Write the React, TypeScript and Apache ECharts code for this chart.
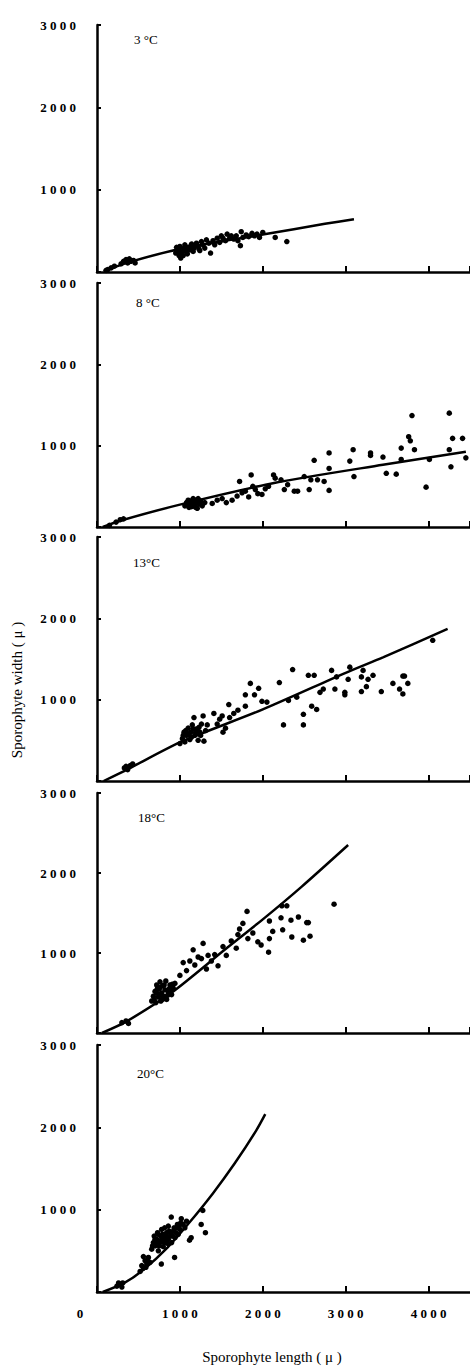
import React, { useEffect, useRef } from "react";
import * as echarts from "echarts";

// ---- data ----
const panelLabels = ["3 °C", "8 °C", "13°C", "18°C", "20°C"];
const xTickValues = [0, 1000, 2000, 3000, 4000];
const yTickValues = [1000, 2000, 3000];

const scatter3 = [
  [110, 20], [130, 30], [170, 50], [210, 70], [290, 100], [320, 130], [350, 150], [370, 110], [390, 160], [410, 130], [440, 140], [460, 110],
  [950, 230], [970, 270], [990, 200], [1000, 310], [1010, 170], [1030, 240], [1050, 290], [1060, 330], [1080, 250], [1100, 300],
  [960, 300], [1000, 250], [1040, 200], [1070, 280], [1090, 220], [1130, 310], [1160, 250], [1190, 320], [1230, 280],
  [1120, 270], [1140, 340], [1170, 290], [1200, 350], [1220, 310], [1240, 260], [1260, 370], [1280, 330], [1300, 290], [1320, 390],
  [1350, 350], [1370, 230], [1400, 380], [1420, 330], [1450, 410], [1480, 360], [1500, 440], [1520, 410], [1550, 380], [1570, 460],
  [1600, 410], [1620, 440], [1650, 400], [1680, 440], [1700, 380], [1730, 320], [1740, 490], [1760, 420], [1800, 450], [1830, 430],
  [1870, 470], [1900, 440], [1930, 460], [1960, 420], [2000, 480], [2150, 420], [2290, 370],
];
const line3 = [[80, 10], [390, 120], [1000, 280], [2000, 455], [2750, 585], [3100, 640]];

const scatter8 = [
  [150, 20], [230, 60], [280, 90], [320, 100],
  [1060, 260], [1080, 300], [1100, 330], [1110, 240], [1130, 280], [1150, 310], [1160, 350], [1180, 260], [1190, 300], [1200, 330],
  [1210, 230], [1230, 290], [1250, 320], [1270, 260], [1300, 300],
  [1090, 280], [1120, 320], [1140, 250], [1170, 330], [1190, 240], [1220, 350], [1240, 280], [1160, 290],
  [1390, 290], [1450, 330], [1510, 350], [1560, 300], [1630, 330], [1690, 380], [1750, 420], [1720, 560], [1790, 440], [1830, 370],
  [1860, 640], [1880, 500], [1910, 460], [1940, 410], [1990, 400], [2030, 470], [2070, 500], [2130, 640], [2150, 600], [2220, 580],
  [2260, 460], [2300, 520], [2380, 440], [2420, 440], [2500, 620], [2560, 460], [2580, 580], [2620, 820], [2660, 580], [2740, 560],
  [2800, 720], [2800, 910], [2800, 450], [3050, 810], [3090, 950], [3100, 620], [3300, 910], [3300, 880], [3450, 860], [3490, 660],
  [3610, 650], [3670, 830], [3670, 970], [3760, 1110], [3780, 1060], [3800, 1370], [3830, 950], [3970, 490], [4010, 830], [4250, 1400],
  [4250, 950], [4270, 740], [4290, 1090], [4410, 1090], [4450, 850],
];
const line8 = [[70, 0], [290, 80], [1000, 275], [2150, 545], [3450, 765], [4450, 925]];

const scatter13 = [
  [330, 160], [370, 140], [400, 190], [430, 210], [350, 180],
  [1000, 460], [1030, 520], [1050, 600], [1060, 480], [1080, 560], [1100, 650], [1120, 510], [1130, 600], [1150, 690], [1170, 780],
  [1180, 560], [1200, 640], [1220, 500], [1240, 600], [1260, 700], [1280, 800], [1290, 490], [1310, 620], [1330, 690],
  [1040, 560], [1070, 620], [1110, 580], [1140, 540], [1160, 640], [1190, 600], [1230, 660], [1250, 560],
  [1410, 830], [1450, 700], [1480, 760], [1510, 800], [1520, 600], [1550, 650], [1590, 940], [1600, 780], [1650, 830], [1700, 870],
  [1790, 1060], [1790, 920], [1850, 1200], [1900, 1060], [1950, 1140], [1990, 980], [2050, 970], [2200, 1210], [2250, 690], [2310, 990],
  [2360, 1370], [2410, 1030], [2490, 820], [2490, 690], [2550, 1300], [2590, 920], [2620, 1300], [2650, 880], [2690, 1090], [2730, 1130],
  [2830, 1360], [2870, 1130], [2890, 1280], [2990, 1090], [2990, 1060], [3030, 1250], [3050, 1400], [3190, 1280], [3210, 1360],
  [3190, 1100], [3250, 1160], [3270, 1250], [3330, 1300], [3430, 1100], [3570, 1200], [3650, 1130], [3690, 1290], [3690, 1070],
  [3710, 1290], [3750, 1200], [4050, 1730],
];
const line13 = [[80, 0], [380, 150], [1000, 475], [2000, 880], [3000, 1330], [3450, 1520], [4230, 1870]];

const scatter18 = [
  [300, 130], [350, 150], [380, 120],
  [660, 400], [680, 460], [700, 520], [710, 380], [720, 600], [740, 450], [750, 550], [760, 640], [770, 400], [780, 500], [790, 590],
  [800, 460], [820, 540], [830, 650], [840, 420], [860, 520], [880, 600], [900, 480], [920, 560], [940, 620],
  [690, 420], [720, 500], [730, 560], [760, 480], [790, 420], [810, 600], [850, 470], [870, 550], [890, 520], [910, 610], [760, 570],
  [1000, 720], [1040, 880], [1080, 780], [1120, 900], [1160, 1040], [1180, 850], [1220, 950], [1260, 930], [1280, 1120], [1320, 800],
  [1340, 970], [1380, 900], [1420, 980], [1460, 840], [1520, 1080], [1560, 970], [1620, 1150], [1680, 1060], [1700, 1230], [1720, 1300],
  [1760, 1370], [1810, 1520], [1820, 1180], [1880, 1250], [1940, 1140], [1980, 1100], [2070, 1010], [2080, 1400], [2080, 1180],
  [2120, 1270], [2220, 1440], [2230, 1590], [2240, 1290], [2290, 1590], [2340, 1410], [2350, 1200], [2430, 1450], [2490, 1160],
  [2530, 1380], [2550, 1380], [2570, 1210], [2860, 1610],
];
const line18 = [[60, 0], [340, 135], [900, 505], [1540, 1040], [2000, 1420], [2470, 1830], [3030, 2350]];

const scatter20 = [
  [240, 70], [280, 90], [310, 110], [300, 60], [260, 110],
  [520, 250], [540, 320], [560, 290], [580, 380], [600, 340], [620, 420], [640, 360], [560, 430], [590, 300], [610, 380],
  [660, 520], [680, 600], [690, 680], [700, 560], [720, 640], [730, 720], [740, 500], [760, 600], [770, 680], [776, 340], [780, 760],
  [800, 550], [816, 780], [820, 650], [840, 720], [850, 590], [860, 800], [880, 680], [896, 910], [900, 600], [920, 740], [936, 420],
  [940, 660], [960, 780], [980, 700], [1000, 760], [1017, 890], [1040, 820], [1060, 780], [1080, 860], [1116, 630], [1136, 660],
  [670, 560], [700, 640], [710, 600], [740, 700], [750, 560], [780, 640], [790, 700], [810, 600], [830, 680], [860, 640], [870, 740],
  [890, 720], [910, 680], [930, 780], [950, 720], [970, 820], [990, 800], [1010, 840],
  [1257, 820], [1276, 990], [1308, 720],
];
const line20 = [[70, 0], [330, 110], [560, 270], [850, 540], [1120, 850], [1400, 1200], [1660, 1560], [1920, 1960], [2030, 2160]];

const scatters = [scatter3, scatter8, scatter13, scatter18, scatter20];
const lines = [line3, line8, line13, line18, line20];

// ---- layout ----
const TOPS = [25, 283, 537, 793, 1045];
const BOTTOMS = [272, 527, 781, 1033, 1292];
const LABEL_POS = [
  [134, 33], [136, 296], [133, 556], [138, 811], [137, 1067],
];

const spaced = (v: number) => String(v).split("").join(" ");
const tickFont = {
  fontFamily: "Liberation Serif",
  fontWeight: "bold" as const,
  fontSize: 13,
  color: "#000",
};

export default function App() {
  const ref = useRef<HTMLDivElement>(null);
  useEffect(() => {
    if (!ref.current) return;
    const chart = echarts.init(ref.current, undefined, { renderer: "svg" });
    const n = panelLabels.length;
    const option: any = {
      animation: false,
      backgroundColor: "#fff",
      grid: TOPS.map((t, i) => ({ left: 97, top: t, width: 375, height: BOTTOMS[i] - t })),
      xAxis: TOPS.map((_, i) => ({
        type: "value",
        gridIndex: i,
        min: 0,
        max: 4500,
        interval: 1000,
        axisLine: { show: true, lineStyle: { color: "#000", width: 2.5 } },
        axisTick: { show: true, inside: true, length: 6, lineStyle: { color: "#000", width: 2 } },
        splitLine: { show: false },
        axisLabel:
          i === n - 1
            ? {
                show: true,
                showMaxLabel: false,
                margin: 15,
                ...tickFont,
                formatter: (v: number) =>
                  v === 0 ? "{z|0}" : xTickValues.includes(v) ? spaced(v) : "",
                rich: { z: { ...tickFont, padding: [0, 34, 0, 0] } },
              }
            : { show: false },
      })),
      yAxis: TOPS.map((_, i) => ({
        type: "value",
        gridIndex: i,
        min: 0,
        max: 3000,
        interval: 1000,
        axisLine: { show: true, onZero: false, lineStyle: { color: "#000", width: 2.5 } },
        axisTick: { show: true, inside: true, length: 4, lineStyle: { color: "#000", width: 2 } },
        splitLine: { show: false },
        axisLabel: {
          margin: 21,
          ...tickFont,
          formatter: (v: number) => (yTickValues.includes(v) ? spaced(v) : ""),
        },
      })),
      series: [
        ...scatters.map((d, i) => ({
          type: "scatter",
          xAxisIndex: i,
          yAxisIndex: i,
          data: d,
          symbolSize: 5.5,
          itemStyle: { color: "#000", opacity: 1 },
        })),
        ...lines.map((d, i) => ({
          type: "line",
          xAxisIndex: i,
          yAxisIndex: i,
          data: d,
          smooth: 0.25,
          showSymbol: false,
          lineStyle: { color: "#000", width: 2.5 },
        })),
      ],
      graphic: [
        ...panelLabels.map((t, i) => ({
          type: "text",
          left: LABEL_POS[i][0],
          top: LABEL_POS[i][1],
          style: { text: t, font: "13px 'Liberation Serif'", fill: "#000" },
        })),
        {
          type: "text",
          x: 17,
          y: 690,
          rotation: Math.PI / 2,
          style: {
            text: "Sporophyte width ( μ )",
            font: "15px 'Liberation Serif'",
            fill: "#000",
            align: "center",
            verticalAlign: "middle",
          },
        },
        {
          type: "text",
          x: 272,
          y: 1357,
          style: {
            text: "Sporophyte length ( μ )",
            font: "15px 'Liberation Serif'",
            fill: "#000",
            align: "center",
            verticalAlign: "middle",
          },
        },
      ],
    };
    chart.setOption(option);
    return () => chart.dispose();
  }, []);
  return (
    <div
      ref={ref}
      style={{ position: "absolute", left: 0, top: 0, width: 470, height: 1366, background: "#fff" }}
    />
  );
}
